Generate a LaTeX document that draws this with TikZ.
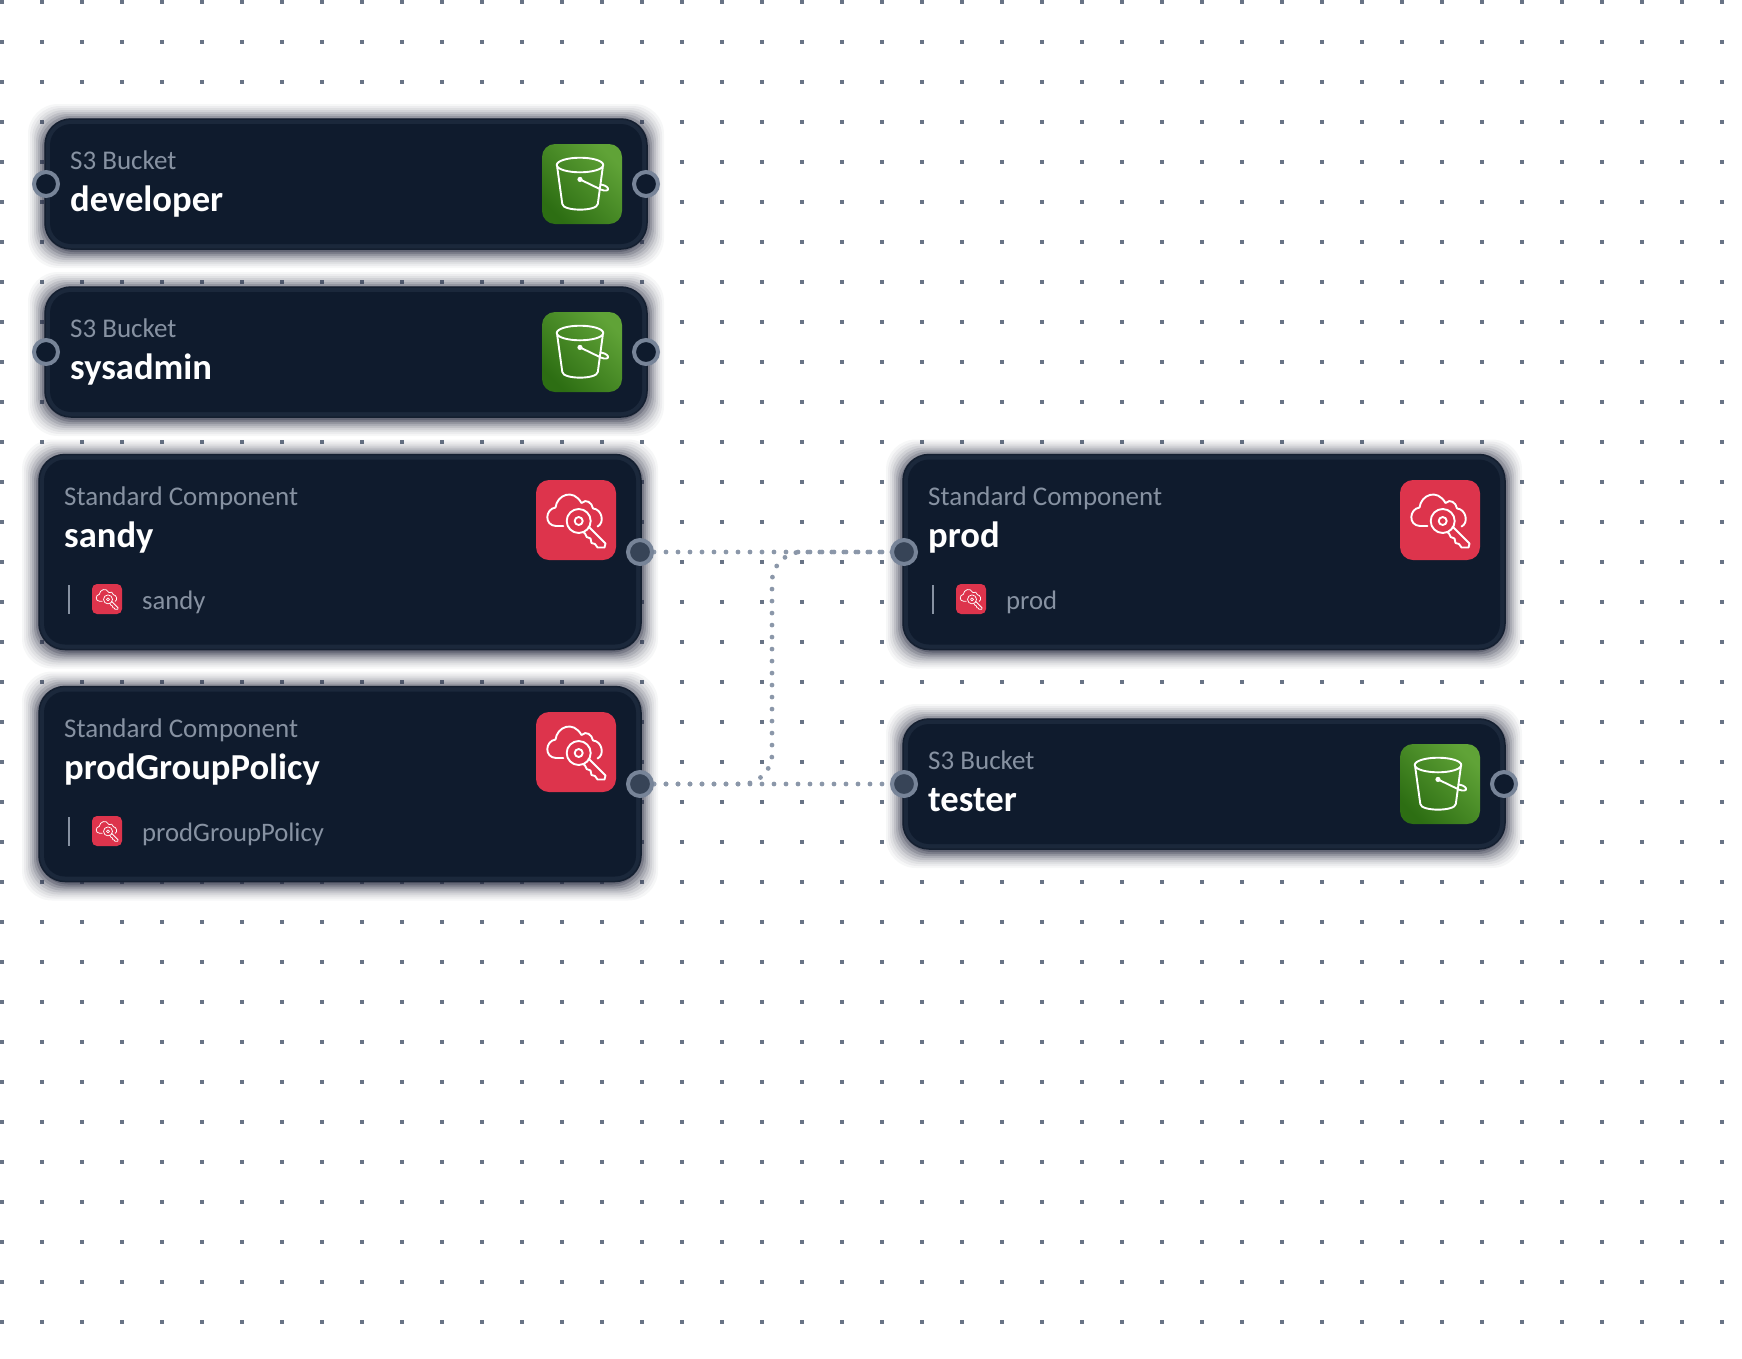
\documentclass[tikz,border=0pt]{standalone}
\usepackage{fontspec}
\setmainfont{Carlito}
\definecolor{carddark}{HTML}{0F1B2D}
\definecolor{cardring}{HTML}{1B283B}
\definecolor{cardedge}{HTML}{141F30}
\definecolor{dotgrey}{HTML}{687385}
\definecolor{edgegrey}{HTML}{8B97A9}
\definecolor{portring}{HTML}{778498}
\definecolor{portfill}{HTML}{374457}
\definecolor{labelgrey}{HTML}{8792A2}
\definecolor{awsred}{HTML}{DD344C}
\definecolor{greenlo}{HTML}{2D6E13}
\definecolor{greenhi}{HTML}{60A337}
\definecolor{shadowc}{HTML}{23273C}
\tikzset{
  x=1pt,y=-1pt,
  gridmark/.style={fill=dotgrey},
  cardouter/.style={draw=cardedge,line width=1.5pt,fill=cardring,rounded corners=26pt},
  cardinner/.style={fill=carddark,rounded corners=21pt},
  portopen/.style={circle,draw=portring,line width=4pt,fill=carddark,minimum size=24pt,inner sep=0pt,outer sep=0pt},
  portlinked/.style={portopen,fill=portfill},
  edgeline/.style={draw=edgegrey,line width=4.8pt,line cap=round,dash pattern=on 0pt off 12pt,dash phase=10pt,rounded corners=30pt},
  kindtext/.style={anchor=base west,inner sep=0pt,text=labelgrey,font=\fontsize{27}{29}\selectfont},
  nametext/.style={anchor=base west,inner sep=0pt,text=white,font=\fontsize{36.6}{39}\selectfont\bfseries},
  subtext/.style={anchor=base west,inner sep=0pt,text=labelgrey,font=\fontsize{26.7}{28}\selectfont},
  glyph/.style={draw=white,line join=round,line cap=round,fill=none},
}
\newcommand{\cardbox}[4]{% cx cy w h
  \foreach \e/\o in {17/.04,15/.05,13/.06,11/.08,9/.1,7/.13,5/.17,3/.22,1/.28}{
    \fill[shadowc,opacity=\o,rounded corners=30pt] ({#1-#3/2-\e},{#2-#4/2-\e+2}) rectangle ({#1+#3/2+\e},{#2+#4/2+\e+2});
  }
  \path[cardouter] ({#1-#3/2},{#2-#4/2}) rectangle ({#1+#3/2},{#2+#4/2});
  \path[cardinner] ({#1-#3/2+5},{#2-#4/2+5}) rectangle ({#1+#3/2-5},{#2+#4/2-5});
}
\newcommand{\bucketicon}[2]{% left top
  \begin{scope}[shift={(#1,#2)}]
    \shade[rounded corners=13pt,bottom color=greenlo,top color=greenhi,shading angle=-45] (0,0) rectangle (80,80);
    \draw[glyph,line width=1.9pt] (38,21) ellipse [x radius=23.3,y radius=7.3];
    \draw[glyph,line width=1.9pt] (15.2,23) -- (20.3,60) .. controls (21,67.5) and (55,67.5) .. (55.8,60) -- (60.8,23);
    \fill[white] (38,35.4) circle [radius=2.6];
    \draw[glyph,line width=1.9pt] (38,35.4) -- (59,45.6) .. controls (63,47.4) and (67,46.6) .. (66,44.4) .. controls (65,42) and (61,40.8) .. (58.5,40.6);
  \end{scope}
}
\newcommand{\keyicon}[5]{% left top scale linewidth corner
  \begin{scope}[shift={(#1,#2)},scale=#3]
    \fill[awsred,rounded corners=#5] (0,0) rectangle (80,80);
    \draw[glyph,line width=#4] (27.3,46) -- (20,46) .. controls (8,45.5) and (9,29) .. (19.5,27.5)
      .. controls (21,15) and (37,8) .. (45.5,23) .. controls (50,18.5) and (56,22.5) .. (57,28.5)
      .. controls (66,29) and (69,43) .. (61.5,46.5);
    \draw[glyph,line width=#4] (42.7,41) circle [radius=12];
    \draw[glyph,line width=#4] (42.7,41) circle [radius=4];
    \draw[glyph,line width=#4] (52.5,46.5) -- (69.5,63.5) -- (68.5,67.5) -- (61.5,67.5) -- (59,64) -- (55.5,63) -- (54.5,58.5) -- (50.7,57) -- (49,53.5) -- (47,51.8);
  \end{scope}
}
\begin{document}
\begin{tikzpicture}
\useasboundingbox (0,0) rectangle (1742,1358);
% canvas dot grid
\foreach \gx in {0,...,43}{\foreach \gy in {0,...,33}{
  \fill[gridmark] ({\gx*40},{\gy*40}) rectangle ++(4,4);
}}
% card bodies
\cardbox{346}{184}{602}{130}
\cardbox{346}{352}{602}{130}
\cardbox{340}{552}{602}{195}
\cardbox{340}{784}{602}{195}
\cardbox{1204}{552}{602}{195}
\cardbox{1204}{784}{602}{130}
% icons
\bucketicon{542}{144}
\bucketicon{542}{312}
\keyicon{536}{480}{1}{1.9pt}{13pt}
\keyicon{536}{712}{1}{1.9pt}{13pt}
\keyicon{1400}{480}{1}{1.9pt}{13pt}
\bucketicon{1400}{744}
\keyicon{92}{584}{.375}{.75pt}{5pt}
\keyicon{92}{816}{.375}{.75pt}{5pt}
\keyicon{956}{584}{.375}{.75pt}{5pt}
% sub-item separators
\draw[labelgrey,line width=1.4pt] (69,585) -- (69,614);
\draw[labelgrey,line width=1.4pt] (69,817) -- (69,846);
\draw[labelgrey,line width=1.4pt] (933,585) -- (933,614);
% texts
\node[kindtext] (kdev) at (70,169) {S3 Bucket};
\node[nametext] (ndev) at (70,211) {developer};
\node[kindtext] (ksys) at (70,337) {S3 Bucket};
\node[nametext] (nsys) at (70,379) {sysadmin};
\node[kindtext] (ksan) at (64,505) {Standard Component};
\node[nametext] (nsan) at (64,547) {sandy};
\node[subtext] (ssan) at (142,609) {sandy};
\node[kindtext] (kgrp) at (64,737) {Standard Component};
\node[nametext] (ngrp) at (64,779) {prodGroupPolicy};
\node[subtext] (sgrp) at (142,841) {prodGroupPolicy};
\node[kindtext] (kprd) at (928,505) {Standard Component};
\node[nametext] (nprd) at (928,547) {prod};
\node[subtext] (sprd) at (1006,609) {prod};
\node[kindtext] (ktst) at (928,769) {S3 Bucket};
\node[nametext] (ntst) at (928,811) {tester};
% ports
\coordinate (bendlow) at (772,784);
\coordinate (bendhigh) at (772,552);
\path (640,552) coordinate (psanc) (904,552) coordinate (pprdc) (640,784) coordinate (pgrpc) (904,784) coordinate (ptstc);
\draw[edgeline] (psanc) -- (pprdc);
\draw[edgeline] (pgrpc) -- (ptstc);
\draw[edgeline] (pgrpc) -- (bendlow) -- (bendhigh) -- (pprdc);
\node[portopen] (pdevl) at (46,184) {};
\node[portopen] (pdevr) at (646,184) {};
\node[portopen] (psysl) at (46,352) {};
\node[portopen] (psysr) at (646,352) {};
\node[portlinked] (psan) at (psanc) {};
\node[portlinked] (pgrp) at (pgrpc) {};
\node[portlinked] (pprd) at (pprdc) {};
\node[portlinked] (ptst) at (ptstc) {};
\node[portopen] (ptstr) at (1504,784) {};
\end{tikzpicture}
\end{document}
